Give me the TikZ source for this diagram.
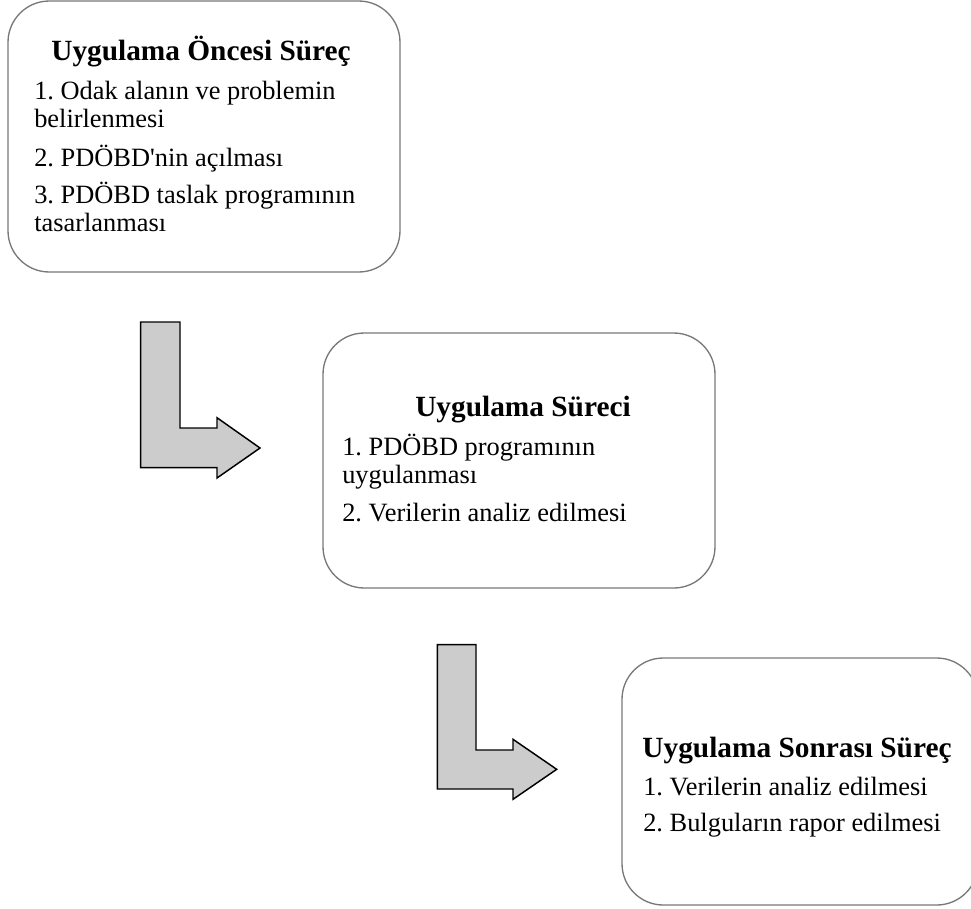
\documentclass[tikz,border=0pt]{standalone}
\usepackage{fontspec}
\setmainfont{Liberation Serif}
\definecolor{boxgray}{RGB}{120,120,120}
\definecolor{arrowfill}{RGB}{204,204,204}
\begin{document}
\frenchspacing
\begin{tikzpicture}[x=0.75pt,y=-0.75pt,
  box/.style={draw=boxgray, line width=1pt, rounded corners=31pt, inner sep=0pt, fill=white},
  bentarrow/.style={draw=black, line width=1.1pt, fill=arrowfill, line join=miter},
  titletext/.style={anchor=base, inner sep=0pt, font=\fontsize{22pt}{24pt}\selectfont\bfseries},
  itemtext/.style={anchor=base west, inner sep=0pt, align=left, font=\fontsize{19.8pt}{21pt}\selectfont\frenchspacing}]
\useasboundingbox (0,0) rectangle (971,908);

% boxes
\node[box, minimum width=294pt, minimum height=203.25pt] (b1) at (204,136.5) {};
\node[box, minimum width=294pt, minimum height=191.25pt] (b2) at (519,460.5) {};
\node[box, minimum width=267pt, minimum height=185.25pt] (b3) at (800,781.5) {};

% box 1 text (multi-line nodes are placed at the baseline of their last line)
\node[titletext] (t1) at (201,60) {Uygulama Öncesi Süreç};
\node[itemtext] (i11) at (34,127) {1. Odak alanın ve problemin\\belirlenmesi};
\node[itemtext] (i12) at (34,166) {2. PDÖBD\textquotesingle nin açılması};
\node[itemtext] (i13) at (34,231) {3. PDÖBD taslak programının\\tasarlanması};

% box 2 text
\node[titletext] (t2) at (523,416) {Uygulama Süreci};
\node[itemtext] (i21) at (342,483) {1. PDÖBD programının\\uygulanması};
\node[itemtext] (i22) at (342,521) {2. Verilerin analiz edilmesi};

% box 3 text
\node[titletext] (t3) at (797,757) {Uygulama Sonrası Süreç};
\node[itemtext] (i31) at (643,795) {1. Verilerin analiz edilmesi};
\node[itemtext] (i32) at (643,831) {2. Bulguların rapor edilmesi};

% bent arrows
\draw[bentarrow] (140.7,322) -- (180,322) -- (180,428) -- (217,428) -- (217,417.7)
  -- (260,448) -- (217,478) -- (217,467.7) -- (140.7,467.7) -- cycle;
\draw[bentarrow] (437.3,644.7) -- (476,644.7) -- (476,750) -- (513,750) -- (513,739.3)
  -- (556.7,769.3) -- (513,799.3) -- (513,789) -- (437.3,789) -- cycle;
\end{tikzpicture}
\end{document}
